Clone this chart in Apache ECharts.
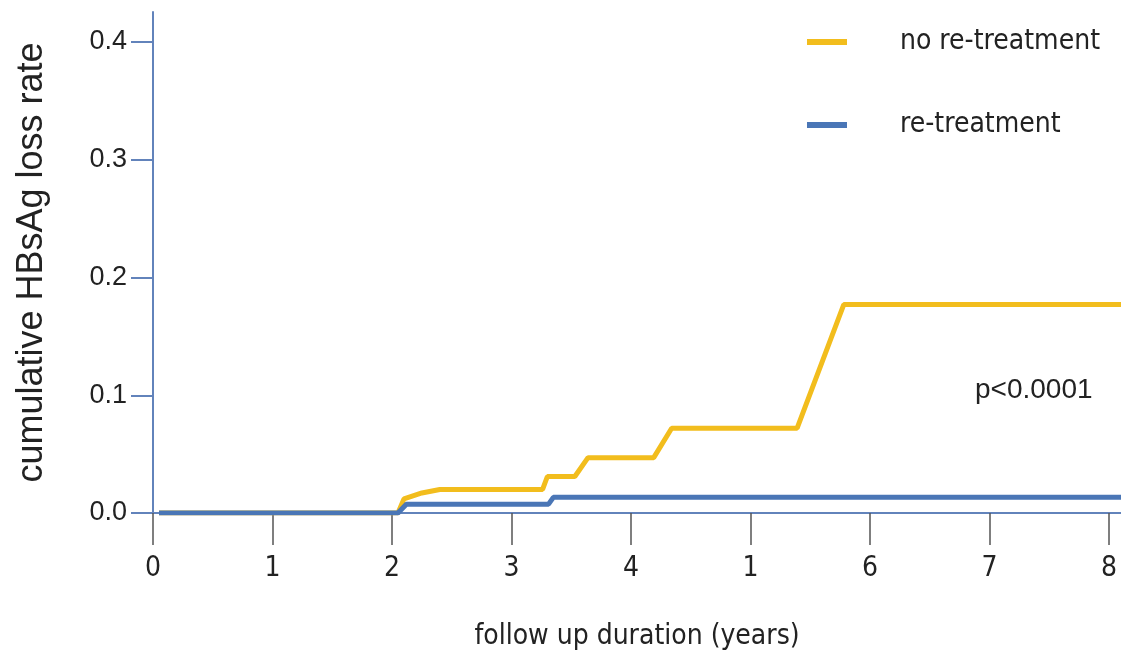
<!DOCTYPE html>
<html>
<head>
<meta charset="utf-8">
<script src="https://cdn.jsdelivr.net/npm/echarts@6/dist/echarts.min.js"></script>
<style>
html,body{margin:0;padding:0;background:#fff;}
#chart{width:1121px;height:657px;}
</style>
</head>
<body>
<div id="chart"></div>
<script>
// ---- data ----
const seriesNames = ["no re-treatment", "re-treatment"];
const xTickValues = [0, 1, 2, 3, 4, 5, 6, 7, 8];
const xTickLabels = ["0", "1", "2", "3", "4", "1", "6", "7", "8"];
const yTickValues = [0, 0.1, 0.2, 0.3, 0.4];
// no re-treatment: [years, cumulative rate]
const noRetreatX = [0.05, 2.05, 2.10, 2.25, 2.40, 3.26, 3.30, 3.53, 3.64, 4.19, 4.34, 5.39, 5.78, 8.1];
const noRetreatY = [0, 0, 0.012, 0.017, 0.020, 0.020, 0.031, 0.031, 0.047, 0.047, 0.072, 0.072, 0.177, 0.177];
// re-treatment
const retreatX = [0.05, 2.05, 2.12, 3.31, 3.35, 8.1];
const retreatY = [0, 0, 0.0075, 0.0075, 0.0133, 0.0133];
const pValueText = "p<0.0001";
const xAxisName = "follow up duration (years)";
const yAxisName = "cumulative HBsAg loss rate";

const zip = (xs, ys) => xs.map((x, i) => [x, ys[i]]);

const chart = echarts.init(document.getElementById('chart'), null, {renderer: 'canvas'});
const axisCol = '#6283bb';
const condFont = "'DejaVu Sans Condensed', 'Liberation Sans Narrow', 'Liberation Sans', Arial, sans-serif";
const arialFont = "'Liberation Sans', Arial, sans-serif";
chart.setOption({
  animation: false,
  backgroundColor: '#ffffff',
  grid: {left: 153, right: 0, top: 12, bottom: 144, containLabel: false},
  legend: {
    orient: 'vertical',
    right: 16,
    top: 23,
    itemGap: 55,
    itemWidth: 40,
    itemHeight: 6,
    icon: 'rect',
    textStyle: {fontSize: 28, color: '#222', fontFamily: condFont, padding: [0, 0, 0, 48]},
    data: seriesNames
  },
  xAxis: {
    type: 'value',
    min: 0,
    max: 8.1,
    name: xAxisName,
    nameLocation: 'middle',
    nameGap: 110,
    nameTextStyle: {fontSize: 28, color: '#222', fontFamily: condFont},
    axisLine: {show: true, lineStyle: {color: axisCol, width: 2}},
    axisTick: {show: true, length: 32, lineStyle: {color: '#555', width: 1.5}, customValues: xTickValues},
    axisLabel: {
      customValues: xTickValues,
      fontSize: 28, color: '#222', fontFamily: condFont, margin: 42,
      formatter: v => { const i = xTickValues.indexOf(Math.round(v)); return i >= 0 ? xTickLabels[i] : ''; }
    },
    splitLine: {show: false}
  },
  yAxis: {
    type: 'value',
    min: 0,
    max: 0.4255,
    name: yAxisName,
    nameLocation: 'middle',
    nameGap: 103,
    nameRotate: 90,
    nameTextStyle: {fontSize: 36, color: '#222', fontFamily: arialFont},
    axisLine: {show: true, lineStyle: {color: axisCol, width: 2}},
    axisTick: {show: true, length: 22, lineStyle: {color: axisCol, width: 2}, customValues: yTickValues},
    axisLabel: {
      customValues: yTickValues,
      fontSize: 27, color: '#222', fontFamily: arialFont, margin: 26,
      formatter: v => v.toFixed(1)
    },
    splitLine: {show: false}
  },
  series: [
    {
      name: seriesNames[0],
      type: 'line',
      data: zip(noRetreatX, noRetreatY),
      showSymbol: false,
      symbol: 'none',
      lineStyle: {color: '#f2bd1d', width: 5},
      itemStyle: {color: '#f2bd1d'},
      z: 2
    },
    {
      name: seriesNames[1],
      type: 'line',
      data: zip(retreatX, retreatY),
      showSymbol: false,
      symbol: 'none',
      lineStyle: {color: '#4a76b6', width: 5},
      itemStyle: {color: '#4a76b6'},
      z: 3
    }
  ],
  graphic: [{
    type: 'text',
    left: 975,
    top: 376,
    style: {text: pValueText, fill: '#222', font: "28px 'Liberation Sans', Arial, sans-serif"}
  }]
});
</script>
</body>
</html>
